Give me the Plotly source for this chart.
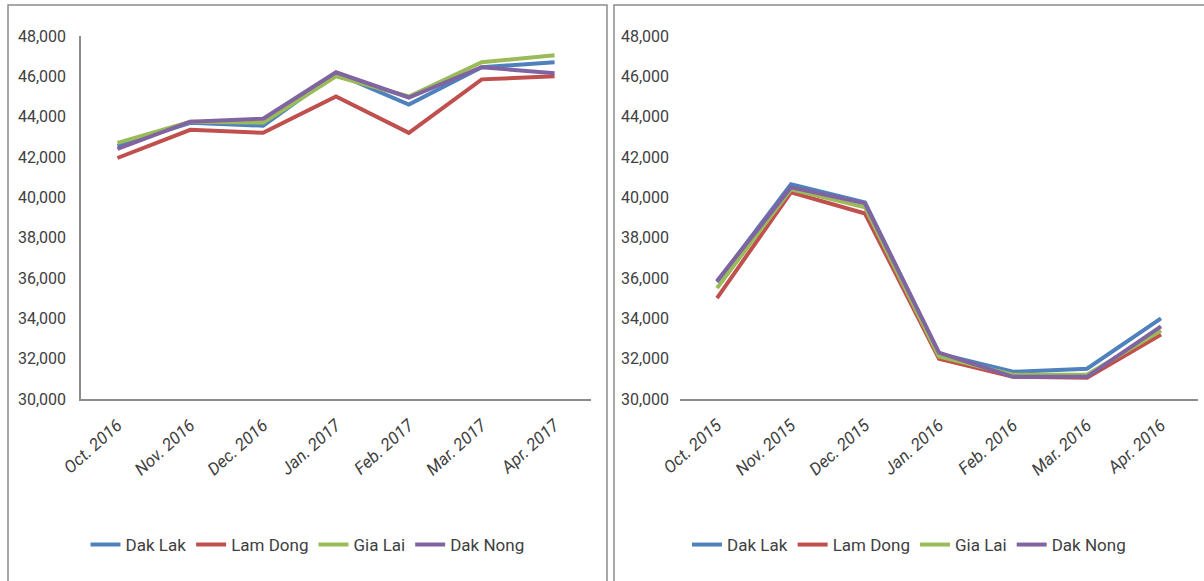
import plotly.graph_objects as go

W, H = 1204, 581

months_left = ["Oct. 2016", "Nov. 2016", "Dec. 2016", "Jan. 2017", "Feb. 2017", "Mar. 2017", "Apr. 2017"]
months_right = ["Oct. 2015", "Nov. 2015", "Dec. 2015", "Jan. 2016", "Feb. 2016", "Mar. 2016", "Apr. 2016"]

provinces = ["Dak Lak", "Lam Dong", "Gia Lai", "Dak Nong"]
colors = ["#4F81BD", "#C0504D", "#9BBB59", "#8064A2"]

dak_lak_left = [42550, 43700, 43550, 46150, 44600, 46450, 46700]
lam_dong_left = [41950, 43350, 43200, 45000, 43200, 45850, 46000]
gia_lai_left = [42700, 43750, 43700, 46000, 45000, 46700, 47050]
dak_nong_left = [42400, 43750, 43900, 46200, 44950, 46450, 46150]

dak_lak_right = [35800, 40650, 39750, 32250, 31350, 31500, 34000]
lam_dong_right = [35000, 40250, 39200, 32000, 31100, 31050, 33200]
gia_lai_right = [35500, 40400, 39500, 32100, 31200, 31200, 33400]
dak_nong_right = [35850, 40500, 39700, 32300, 31100, 31100, 33600]

left_series = [dak_lak_left, lam_dong_left, gia_lai_left, dak_nong_left]
right_series = [dak_lak_right, lam_dong_right, gia_lai_right, dak_nong_right]

FONT = "Liberation Sans Narrow, Arial Narrow, Roboto, sans-serif"
TXT = "#404040"

fig = go.Figure()
for name, col, vals in zip(provinces, colors, left_series):
    fig.add_trace(go.Scatter(x=months_left, y=vals, mode="lines", name=name,
                             line=dict(color=col, width=4), xaxis="x", yaxis="y",
                             legend="legend"))
for name, col, vals in zip(provinces, colors, right_series):
    fig.add_trace(go.Scatter(x=months_right, y=vals, mode="lines", name=name,
                             line=dict(color=col, width=4), xaxis="x2", yaxis="y2",
                             legend="legend2"))

ydom = [1 - 399 / H, 1 - 36 / H]
yax = dict(range=[30000, 48000], tickvals=list(range(30000, 48001, 2000)),
           tickformat=",d", showgrid=False, zeroline=False, automargin=False,
           tickfont=dict(family=FONT, size=16, color=TXT),
           ticks="", ticklabelstandoff=10, domain=ydom)
xax = dict(showgrid=False, zeroline=False, showline=True, linecolor="#8c8c8c",
           linewidth=1.5, ticks="", tickangle=-42, automargin=False,
           ticklabelstandoff=8, range=[-0.5, 6.5],
           tickfont=dict(family=FONT, size=17, color=TXT, style="italic"))

legend_common = dict(orientation="h", xanchor="center", yanchor="middle",
                     y=1 - 545 / H, font=dict(family=FONT, size=17, color=TXT),
                     bgcolor="rgba(0,0,0,0)", itemwidth=30, traceorder="normal")

fig.update_layout(
    width=W, height=H,
    margin=dict(l=0, r=0, t=0, b=0, autoexpand=False),
    paper_bgcolor="white", plot_bgcolor="white",
    xaxis=dict(xax, domain=[81 / W, 591 / W], anchor="y"),
    yaxis=dict(yax, anchor="x", showline=True, linecolor="#8c8c8c", linewidth=1.5),
    xaxis2=dict(xax, domain=[680 / W, 1198 / W], anchor="y2"),
    yaxis2=dict(yax, anchor="x2", showline=False),
    legend=dict(legend_common, x=(8 + 607) / 2 / W),
    legend2=dict(legend_common, x=(614 + 1204) / 2 / W),
    shapes=[
        dict(type="rect", xref="paper", yref="paper", x0=8 / W, x1=607 / W,
             y0=-0.02, y1=1 - 5 / H, line=dict(color="#8c8c8c", width=1.5)),
        dict(type="rect", xref="paper", yref="paper", x0=614 / W, x1=1.02,
             y0=-0.02, y1=1 - 5 / H, line=dict(color="#8c8c8c", width=1.5)),
    ],
)

fig.write_html("out.html")
